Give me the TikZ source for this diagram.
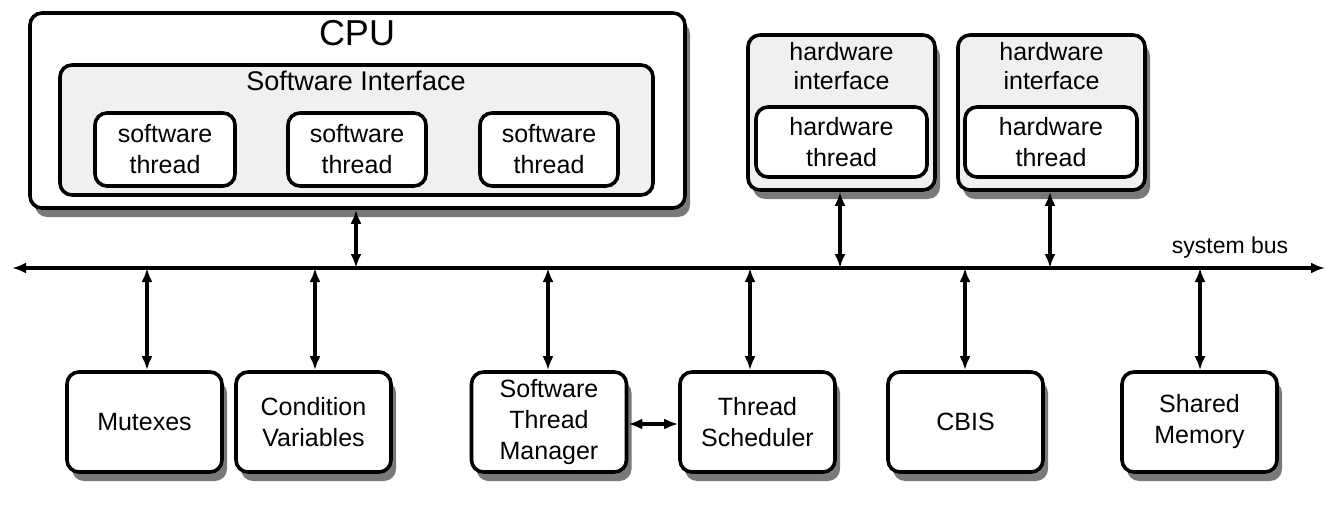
\documentclass[tikz,border=0pt]{standalone}
\usepackage{fontspec}
\setmainfont{Liberation Sans}
\usetikzlibrary{shadows,arrows.meta}
\begin{document}
\begin{tikzpicture}[x=1pt,y=-1pt,
 box/.style={draw,line width=3.6pt,rounded corners=12pt,fill=white,inner sep=0pt,align=center,font=\fontsize{25}{31}\selectfont},
 shad/.style={drop shadow={shadow xshift=5pt,shadow yshift=-9pt,opacity=0.7,fill=black!75}},
 ar/.style={line width=3.2pt,{Latex[length=14pt,width=11pt]}-{Latex[length=14pt,width=11pt]}}]
\useasboundingbox (0,0) rectangle (1340,513);
% CPU
\node[box,shad,minimum width=655pt,minimum height=195pt] (cpu) at (357.5,110.5) {};
\node[font=\fontsize{36}{40}\selectfont] (cpul) at (357,33) {CPU};
\node[box,fill=gray!12,minimum width=593pt,minimum height=130pt] (si) at (356.5,130) {};
\node[font=\fontsize{27}{30}\selectfont] (sil) at (356,81) {Software Interface};
\node[box,minimum width=140pt,minimum height=73pt] (s1) at (165,149.5) {software\\thread};
\node[box,minimum width=138pt,minimum height=73pt] (s2) at (357,149.5) {software\\thread};
\node[box,minimum width=138pt,minimum height=73pt] (s3) at (549,149.5) {software\\thread};
% HW
\node[box,fill=gray!12,shad,minimum width=187pt,minimum height=155pt] (h1) at (841.5,112.5) {};
\node[font=\fontsize{25}{29}\selectfont,align=center] (h1l) at (841.5,66) {hardware\\interface};
\node[box,minimum width=171pt,minimum height=70pt] (t1) at (841.5,142) {hardware\\thread};
\node[box,fill=gray!12,shad,minimum width=187pt,minimum height=155pt] (h2) at (1051.5,112.5) {};
\node[font=\fontsize{25}{29}\selectfont,align=center] (h2l) at (1051.5,66) {hardware\\interface};
\node[box,minimum width=172pt,minimum height=70pt] (t2) at (1051,142) {hardware\\thread};
% bus
\coordinate (bl) at (12,268);
\coordinate (br) at (1325,268);
\draw[ar] (bl) -- (br);
\node[font=\fontsize{23}{26}\selectfont,anchor=south] (sb) at (1230,262) {system bus};
% bottom
\foreach \n/\x/\t in {m/144.5/Mutexes,c/313.5/Condition\\Variables,stm/549/Software\\Thread\\Manager,ts/757.5/Thread\\Scheduler,cb/965.5/CBIS,sm/1199.5/Shared\\Memory}
 \node[box,shad,minimum width=155pt,minimum height=100pt] (\n) at (\x,422) {\t};
\foreach \n/\x in {m/147,c/315,stm/548,ts/750,cb/965,sm/1200}
 \draw[ar] (\x,268) -- (\n.north -| \x,0);
\draw[ar] (cpu.south -| 356,0) -- (356,268);
\draw[ar] (h1.south -| 840,0) -- (840,268);
\draw[ar] (h2.south -| 1050,0) -- (1050,268);
\draw[ar] (stm.east |- 0,424) -- (ts.west |- 0,424);
\end{tikzpicture}
\end{document}
